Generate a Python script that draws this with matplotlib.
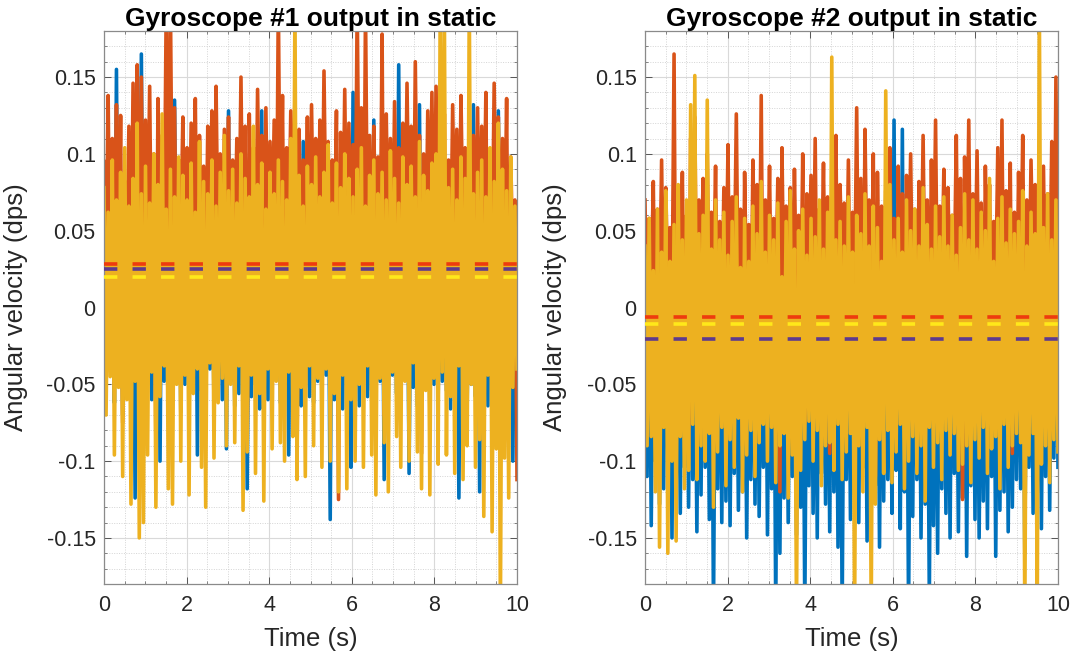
import numpy as np
import matplotlib
matplotlib.use("Agg")
import matplotlib.pyplot as plt
from matplotlib.ticker import MultipleLocator, FixedLocator

plt.rcParams["font.family"] = ["Liberation Sans", "DejaVu Sans"]
plt.rcParams["axes.unicode_minus"] = False

# Angular velocity samples in mdps, stored as alternating upper / lower swings
# (hi[k] is followed by lo[k] in time). Three axes per gyroscope.

# ---------------- Gyroscope #1 ----------------
g1_x_hi = [60, 80, 70, 155, 75, 65, 85, 70, 90, 165,
           75, 60, 80, 70, 88, 68, 72, 135, 85, 55,
           70, 62, 88, 74, 66, 60, 72, 80, 66, 90,
           128, 70, 62, 75, 84, 58, 70, 66, 128, 60,
           76, 68, 82, 64, 72, 56, 78, 62, 108, 74,
           80, 66, 60, 70, 62, 84, 58, 72, 66, 72,
           140, 74, 60, 74, 64, 122, 56, 70, 62, 78,
           60, 158, 68, 74, 62, 86, 132, 70, 64, 58,
           72, 66, 80, 60, 74, 68, 62, 84, 70, 132,
           66, 74, 60, 80, 70, 128, 64, 72, 68, 56]
g1_x_lo = [-55, -40, -62, -48, -70, -45, -58, -124, -50, -66,
           -44, -60, -52, -100, -48, -64, -56, -42, -68, -50,
           -58, -46, -96, -54, -62, -40, -66, -52, -60, -92,
           -48, -64, -56, -44, -118, -58, -50, -66, -42, -60,
           -54, -46, -62, -50, -96, -56, -44, -64, -52, -58,
           -62, -48, -56, -44, -138, -60, -52, -66, -46, -104,
           -50, -64, -42, -58, -54, -66, -48, -112, -60, -44,
           -56, -62, -46, -108, -52, -64, -58, -44, -66, -50,
           -60, -48, -54, -66, -44, -124, -56, -62, -50, -58,
           -120, -52, -64, -46, -58, -60, -54, -48, -100, -62]

g1_y_hi = [95, 138, 110, 132, 125, 82, 118, 146, 158, 150,
           122, 144, 100, 136, 112, 200, 200, 130, 96, 124,
           104, 120, 136, 112, 92, 118, 128, 144, 100, 116,
           124, 96, 110, 150, 118, 126, 104, 142, 112, 130,
           108, 122, 200, 138, 104, 128, 140, 116, 96, 124,
           132, 110, 122, 154, 108, 96, 128, 114, 142, 120,
           106, 200, 130, 196, 112, 118, 98, 178, 126, 110,
           134, 104, 120, 146, 118, 160, 112, 100, 128, 140,
           144, 108, 126, 96, 132, 116, 138, 104, 122, 112,
           130, 118, 140, 102, 146, 124, 110, 136, 98, 70]
g1_y_lo = [30, -20, 45, 10, -75, 25, 5, 40, -30, 15,
           35, 0, -90, 20, 40, -10, 30, 10, 45, -25,
           20, 38, -15, 25, 5, 42, -60, 30, 12, 35,
           -20, 28, 40, 8, -85, 32, 15, 44, -10, 26,
           36, 12, 30, -35, 44, 18, -105, 25, 38, 6,
           30, -45, 22, 40, 10, 34, -125, 28, 16, 42,
           24, 36, -20, 30, 8, 40, 18, -70, 34, 12,
           38, -15, 28, 44, 6, 32, -95, 20, 40, 14,
           30, 42, -30, 22, 36, 10, 44, -55, 26, 38,
           18, 34, -40, 28, 42, 12, 30, -60, 24, -112]

g1_z_hi = [78, 62, 96, 70, 88, 104, 66, 84, 120, 74,
           92, 68, 100, 80, 126, 64, 90, 72, 98, 86,
           70, 94, 62, 108, 82, 74, 96, 66, 88, 112,
           76, 90, 68, 100, 84, 72, 118, 80, 94, 64,
           88, 74, 96, 82, 70, 110, 200, 86, 66, 92,
           80, 98, 72, 88, 106, 68, 94, 78, 100, 84,
           72, 90, 104, 66, 86, 96, 74, 88, 70, 102,
           84, 68, 98, 80, 92, 72, 108, 86, 76, 94,
           100, 200, 195, 78, 90, 70, 98, 84, 200, 74,
           88, 96, 72, 104, 82, 120, 90, 76, 98, 66]
g1_z_lo = [-70, -45, -96, -52, -110, -60, -128, -48, -150, -140,
           -96, -42, -130, -58, -38, -118, -128, -50, -100, -44,
           -122, -56, -40, -104, -130, -36, -98, -62, -46, -90,
           -50, -88, -38, -132, -94, -44, -108, -56, -126, -40,
           -92, -48, -88, -100, -42, -84, -112, -52, -110, -38,
           -90, -46, -104, -40, -100, -56, -120, -44, -118, -60,
           -100, -50, -104, -38, -96, -122, -46, -88, -120, -42,
           -84, -104, -48, -100, -36, -94, -118, -54, -122, -46,
           -102, -42, -96, -58, -108, -38, -112, -90, -50, -104,
           -86, -136, -44, -146, -92, -200, -98, -124, -52, -40]

# ---------------- Gyroscope #2 ----------------
g2_x_hi = [20, 38, 10, 45, 26, 16, 40, 30, 12, 34,
           24, 42, 18, 30, 48, 14, 36, 22, 40, 28,
           16, 34, 26, 44, 20, 12, 38, 30, 24, 46,
           18, 32, 40, 14, 28, 36, 20, 46, 26, 16,
           34, 22, 42, 18, 30, 50, 26, 38, 20, 32,
           44, 24, 36, 18, 30, 40, 22, 34, 28, 20,
           122, 26, 116, 30, 16, 44, 24, 38, 18, 34,
           28, 42, 20, 34, 48, 16, 30, 38, 24, 36,
           38, 22, 30, 44, 18, 34, 26, 40, 20, 32,
           28, 42, 20, 34, 48, 16, 30, 38, 24, 36]
g2_x_lo = [-110, -142, -100, -128, -118, -96, -150, -116, -134, -104,
           -130, -112, -146, -122, -104, -138, -200, -118, -140, -126,
           -142, -108, -132, -120, -150, -112, -128, -136, -104, -148,
           -118, -200, -160, -124, -140, -110, -148, -130, -200, -116,
           -134, -150, -108, -128, -146, -120, -156, -200, -112, -138,
           -122, -140, -104, -152, -130, -116, -156, -126, -112, -134,
           -106, -144, -120, -200, -136, -112, -150, -128, -190, -142,
           -160, -118, -134, -150, -108, -146, -124, -162, -116, -138,
           -150, -126, -144, -110, -162, -132, -120, -146, -130, -112,
           -118, -160, -104, -134, -120, -144, -110, -132, -98, -104]

g2_y_hi = [70, 58, 82, 64, 96, 78, 52, 165, 74, 88,
           60, 110, 124, 70, 84, 100, 62, 92, 56, 78,
           106, 72, 126, 64, 88, 54, 96, 80, 138, 70,
           92, 58, 84, 104, 66, 78, 90, 60, 100, 74,
           86, 110, 64, 94, 72, 58, 112, 80, 68, 96,
           62, 130, 84, 116, 70, 100, 88, 66, 76, 104,
           58, 92, 74, 86, 100, 64, 82, 112, 70, 96,
           122, 66, 90, 78, 60, 112, 84, 98, 122, 74,
           102, 68, 92, 80, 56, 104, 122, 76, 94, 62,
           88, 112, 70, 96, 80, 60, 92, 74, 108, 150]
g2_y_lo = [-20, 10, -55, 0, -30, 15, -10, -70, 5, -40,
           -100, 0, -25, 20, -60, -5, 10, -35, -15, 5,
           -45, 15, -10, -90, 0, -30, 12, -20, -60, 8,
           -25, 5, -120, -10, 18, -40, 0, -15, -75, 10,
           -5, -35, 15, -20, -95, 5, -50, 12, -10, -30,
           8, -25, -60, 10, -5, -110, 0, -40, 15, -20,
           -65, 5, -30, 12, -15, -85, 8, -10, -45, 0,
           -20, 10, -55, -5, 15, -35, -125, 0, -25, 10,
           -15, -70, 6, -30, 12, -10, -50, 4, -95, -20,
           10, -40, -5, 14, -80, 0, -25, 8, -35, -10]

g2_z_hi = [40, 58, 24, 64, 36, 76, 30, 54, 80, 44,
           70, 132, 151, 48, 60, 135, 38, 70, 44, 62,
           34, 56, 72, 26, 58, 30, 66, 48, 82, 36,
           60, 44, 68, 20, 56, 76, 38, 50, 64, 34,
           58, 46, 70, 38, 62, 163, 44, 56, 40, 72,
           36, 60, 48, 74, 40, 66, 52, 30, 141, 80,
           44, 58, 36, 70, 50, 64, 40, 78, 54, 38,
           66, 46, 72, 40, 60, 34, 52, 74, 44, 70,
           38, 62, 50, 84, 30, 58, 72, 42, 64, 48,
           56, 76, 40, 62, 48, 200, 52, 74, 44, 70]
g2_z_lo = [-90, -84, -120, -156, -78, -160, -100, -152, -84, -118,
           -106, -76, -112, -90, -100, -82, -130, -94, -78, -116,
           -86, -104, -72, -120, -96, -80, -110, -88, -76, -100,
           -78, -114, -90, -82, -124, -96, -200, -106, -86, -74,
           -100, -80, -116, -90, -88, -106, -76, -112, -94, -82,
           -200, -90, -120, -78, -200, -128, -86, -108, -80, -114,
           -94, -76, -118, -100, -84, -108, -90, -126, -78, -104,
           -88, -112, -80, -96, -82, -106, -102, -90, -114, -86,
           -98, -78, -108, -92, -84, -118, -76, -104, -90, -82,
           -88, -200, -96, -82, -200, -102, -90, -114, -86, -94]

# Mean value of each axis (dps): x, y, z
g1_means = [0.0248, 0.0281, 0.0196]
g2_means = [-0.0203, -0.0065, -0.0105]

duration = 10.0
titles = ["Gyroscope #1 output in static", "Gyroscope #2 output in static"]
y_ticks = [-0.15, -0.1, -0.05, 0, 0.05, 0.1, 0.15]
y_tick_labels = ["-0.15", "-0.1", "-0.05", "0", "0.05", "0.1", "0.15"]
x_ticks = [0, 2, 4, 6, 8, 10]

line_colors = ["#0072BD", "#D95319", "#EDB120"]
mean_colors = ["#5E3A8E", "#EE3B0E", "#FFE81A"]


def interleave(hi, lo):
    return np.column_stack([hi, lo]).ravel() / 1000.0


fig = plt.figure(figsize=(10.75, 6.61), dpi=100)
ax_pos = [[104 / 1075, 1 - 584 / 661, 413 / 1075, 553 / 661],
          [645 / 1075, 1 - 584 / 661, 413 / 1075, 553 / 661]]

groups = [
    ([(g1_x_hi, g1_x_lo), (g1_y_hi, g1_y_lo), (g1_z_hi, g1_z_lo)], g1_means),
    ([(g2_x_hi, g2_x_lo), (g2_y_hi, g2_y_lo), (g2_z_hi, g2_z_lo)], g2_means),
]

for i, ((series, means), title) in enumerate(zip(groups, titles)):
    ax = fig.add_axes(ax_pos[i])
    for (hi, lo), c in zip(series, line_colors):
        y = interleave(hi, lo)
        t = np.linspace(0, duration, len(y))
        ax.plot(t, y, color=c, lw=2.6, zorder=2)
    # mean lines: y-axis (red), x-axis (purple), z-axis (yellow)
    for j in [1, 0, 2]:
        ax.plot([0, duration], [means[j], means[j]], color=mean_colors[j],
                lw=2.6, linestyle=(0, (3.7, 4.2)), zorder=3)

    ax.set_xlim(0, duration)
    ax.set_ylim(-0.18, 0.18)
    ax.xaxis.set_major_locator(FixedLocator(x_ticks))
    ax.xaxis.set_minor_locator(MultipleLocator(0.5))
    ax.yaxis.set_major_locator(FixedLocator(y_ticks))
    ax.set_yticklabels(y_tick_labels)
    ax.yaxis.set_minor_locator(MultipleLocator(0.01))
    ax.set_axisbelow(True)
    ax.grid(which="major", color="#d9d9d9", lw=0.8, linestyle="-")
    ax.grid(which="minor", color="#d4d4d4", lw=0.7, linestyle=(0, (1, 1.5)))
    ax.tick_params(which="both", direction="in", top=True, right=True,
                   colors="#555555", labelcolor="#262626", labelsize=15.5)
    ax.tick_params(which="major", length=5, width=0.7)
    ax.tick_params(which="minor", length=2.5, width=0.5)
    ax.tick_params(axis="x", pad=8)
    ax.tick_params(axis="y", pad=6)
    for s in ax.spines.values():
        s.set_color("#8a8a8a")
        s.set_linewidth(0.9)

    ax.set_title(title, fontsize=19, fontweight="bold", pad=3, color="black")
    ax.set_xlabel("Time (s)", fontsize=18.5, color="#262626")
    ax.xaxis.set_label_coords(0.5, -0.077)
    ax.xaxis.label.set_va("top")
    ax.set_ylabel("Angular velocity (dps)", fontsize=18.5, color="#262626")
    ax.yaxis.set_label_coords(-0.184 if i == 0 else -0.19, 0.5)

fig.savefig("out.png", dpi=100)
